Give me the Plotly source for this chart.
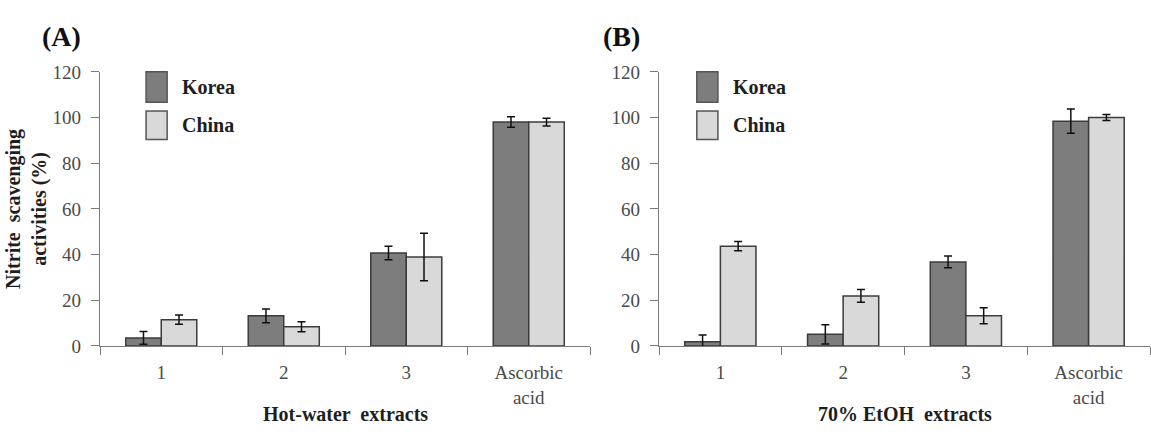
import plotly.graph_objects as go

categories = ["1", "2", "3", "Ascorbic<br>acid"]

# Panel A: Hot-water extracts
a_korea = [3.5, 13.2, 40.7, 98.0]
a_korea_err = [2.8, 3.0, 3.0, 2.3]
a_china = [11.5, 8.4, 38.9, 98.0]
a_china_err = [2.0, 2.2, 10.4, 1.7]

# Panel B: 70% EtOH extracts
b_korea = [1.8, 5.1, 36.8, 98.4]
b_korea_err = [3.0, 4.2, 2.6, 5.3]
b_china = [43.7, 21.9, 13.2, 100.0]
b_china_err = [2.0, 2.8, 3.5, 1.3]

series_names = ["Korea", "China"]
y_ticks = [0, 20, 40, 60, 80, 100, 120]

FONT = "Liberation Serif, Times New Roman, DejaVu Serif, serif"
KOREA_COLOR = "#7d7d7d"
CHINA_COLOR = "#d9d9d9"
EDGE = "#3c3c3c"
AXIS_COLOR = "#7a7a7a"
TEXT_COLOR = "#4a4a4a"
TITLE_COLOR = "#1e1e1e"

W, H = 1151, 435

fig = go.Figure()

def add_panel(xa, ya, korea, korea_err, china, china_err):
    for name, vals, errs, col in [
        (series_names[0], korea, korea_err, KOREA_COLOR),
        (series_names[1], china, china_err, CHINA_COLOR),
    ]:
        fig.add_trace(go.Bar(
            x=categories, y=vals, name=name, xaxis=xa, yaxis=ya,
            marker=dict(color=col, line=dict(color=EDGE, width=1.5)),
            error_y=dict(type="data", array=errs, color="#111111",
                         thickness=1.5, width=4),
            showlegend=False,
        ))

add_panel("x", "y", a_korea, a_korea_err, a_china, a_china_err)
add_panel("x2", "y2", b_korea, b_korea_err, b_china, b_china_err)

ydom = [(H - 353) / H, (H - 65) / H]
xdomA = [100 / W, 590 / W]
xdomB = [659 / W, 1150 / W]

xcommon = dict(
    type="category", showline=True, linecolor=AXIS_COLOR, linewidth=1.2,
    ticks="outside", ticklen=8, tickcolor=AXIS_COLOR, tickson="boundaries",
    tickfont=dict(family=FONT, size=19, color=TEXT_COLOR), ticklabelstandoff=9,
    showgrid=False, zeroline=False, fixedrange=True,
)
ycommon = dict(
    range=[0, 120], tickvals=y_ticks, showline=True, linecolor=AXIS_COLOR,
    linewidth=1.2, ticks="outside", ticklen=8, tickcolor=AXIS_COLOR,
    tickfont=dict(family=FONT, size=19, color=TEXT_COLOR), ticklabelstandoff=6,
    showgrid=False, zeroline=False, domain=ydom,
)

fig.update_layout(
    width=W, height=H,
    margin=dict(l=0, r=0, t=0, b=0),
    paper_bgcolor="white", plot_bgcolor="white",
    barmode="group", bargap=0.42, bargroupgap=0,
    xaxis=dict(domain=xdomA, anchor="y", **xcommon),
    yaxis=dict(anchor="x", **ycommon),
    xaxis2=dict(domain=xdomB, anchor="y2", **xcommon),
    yaxis2=dict(anchor="x2", **ycommon),
    showlegend=False,
)

annotations = []
shapes = []

# Panel labels
annotations.append(dict(text="<b>(A)</b>", x=61 / W, y=(H - 28) / H, xref="paper", yref="paper",
                        xanchor="center", yanchor="middle", showarrow=False,
                        font=dict(family=FONT, size=28, color="#111111")))
annotations.append(dict(text="<b>(B)</b>", x=621 / W, y=(H - 28) / H, xref="paper", yref="paper",
                        xanchor="center", yanchor="middle", showarrow=False,
                        font=dict(family=FONT, size=28, color="#111111")))

# X-axis titles
annotations.append(dict(text="<b>Hot-water  extracts</b>", x=0.5, y=(H - 425) / H,
                        xref="x domain", yref="paper", xanchor="center", yanchor="middle",
                        showarrow=False, font=dict(family=FONT, size=20, color=TITLE_COLOR)))
annotations.append(dict(text="<b>70% EtOH  extracts</b>", x=0.5, y=(H - 425) / H,
                        xref="x2 domain", yref="paper", xanchor="center", yanchor="middle",
                        showarrow=False, font=dict(family=FONT, size=20, color=TITLE_COLOR)))

# Y-axis title (two lines)
annotations.append(dict(text="<b>Nitrite  scavenging<br>activities (%)</b>", x=27 / W,
                        y=(H - 209) / H, xref="paper", yref="paper", xanchor="center",
                        yanchor="middle", showarrow=False, textangle=-90,
                        font=dict(family=FONT, size=20, color=TITLE_COLOR)))

# Legends drawn per panel
legend_pos = {
    "x": (0.094, 0.137, 0.163),
    "x2": (0.077, 0.120, 0.147),
}
for xa, (sx0, sx1, tx) in legend_pos.items():
    ya = "y" if xa == "x" else "y2"
    for name, col, (y0, y1) in [
        (series_names[0], KOREA_COLOR, (0.889, 1.0)),
        (series_names[1], CHINA_COLOR, (0.753, 0.857)),
    ]:
        shapes.append(dict(type="rect", xref=f"{xa} domain", yref=f"{ya} domain",
                           x0=sx0, x1=sx1, y0=y0, y1=y1, fillcolor=col,
                           line=dict(color="#555555", width=1.5)))
        annotations.append(dict(text=f"<b>{name}</b>", x=tx, y=(y0 + y1) / 2,
                                xref=f"{xa} domain", yref=f"{ya} domain",
                                xanchor="left", yanchor="middle", showarrow=False,
                                font=dict(family=FONT, size=20, color=TITLE_COLOR)))

fig.update_layout(annotations=annotations, shapes=shapes)

fig.write_html("out.html")
